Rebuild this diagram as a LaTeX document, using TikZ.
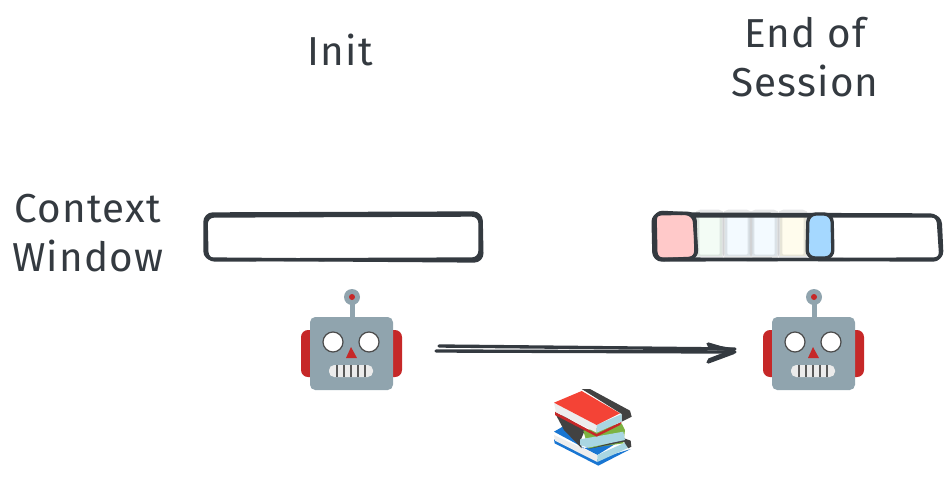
\documentclass[tikz,border=0pt]{standalone}
\usepackage{fontspec}
\newfontfamily\handfont[LetterSpace=3]{Fira Sans}
\definecolor{ink}{HTML}{343A40}
\definecolor{robotgray}{HTML}{90A4AE}
\definecolor{robotred}{HTML}{C62828}
\definecolor{cellred}{HTML}{FFC9C9}
\definecolor{cellblue}{HTML}{A5D8FF}
\definecolor{cellgreen}{HTML}{F3FCF5}
\definecolor{cellsky}{HTML}{F3FAFF}
\definecolor{cellyellow}{HTML}{FFFCED}
\definecolor{bookred}{HTML}{F44336}
\definecolor{bookblue}{HTML}{1976D2}
\definecolor{bookgreen}{HTML}{7CB342}
\definecolor{bookdark}{HTML}{424242}
\definecolor{bookpage}{HTML}{A9D6E2}
\tikzset{
    handtext/.style={text=ink,font=\handfont\fontsize{23}{28}\selectfont,align=center,inner sep=0pt},
    sketch/.style={draw=ink,line width=1.9pt,rounded corners=4.5pt,line cap=round,line join=round},
    ghost/.style={draw=ink,draw opacity=0.12,line width=2.6pt,rounded corners=2pt},
    robotbox/.style={minimum width=58pt,minimum height=58pt,inner sep=0pt},
    robot/.pic={
        \fill[robotred,rounded corners=4pt] (-51,-23) rectangle (50,24);
        \fill[robotgray] (-2.5,-52) rectangle (2.5,-34);
        \fill[robotgray] (0,-56) circle (8);
        \fill[robotred] (0,-56) circle (3);
        \fill[robotgray,rounded corners=3pt] (-42,-36) rectangle (41,37);
        \foreach \ex in {-19,17} {
            \fill[white,draw=black!70,line width=0.7pt] (\ex,-11) circle (10);
        }
        \fill[robotred] (-1,-6) -- (-6,5) -- (5,5) -- cycle;
        \fill[white!92!black,rounded corners=3pt] (-23,12) rectangle (21,24);
        \foreach \tx in {-15,-8,-1,6,13} {
            \draw[black!65,line width=0.7pt] (\tx,12) -- (\tx,24);
        }
    }
}
\begin{document}
\begin{tikzpicture}[x=0.02cm,y=-0.02cm,>=stealth]
    \useasboundingbox (0,0) rectangle (951,485);

    \node[handtext] (inittitle) at (340,50) {Init};
    \node[handtext] (endtitle) at (805,57) {End of\\Session};
    \node[handtext] (windowlabel) at (88,233) {Context\\Window};

    \draw[sketch] (205,214) -- (481,213) -- (482,261) -- (205,259) -- cycle;
    \draw[sketch] (206,216) -- (480,215) -- (480,259) -- (207,260) -- cycle;

    \fill[cellgreen] (697,216) rectangle (722,256);
    \fill[cellsky] (725,216) rectangle (750,256);
    \fill[cellsky] (752,216) rectangle (777,256);
    \fill[cellyellow] (780,216) rectangle (806,256);
    \foreach \gx/\gy in {697/722,725/750,752/777,780/806} {
        \draw[ghost] (\gx,212) rectangle (\gy,257);
    }
    \draw[sketch] (655,214) -- (938,215) -- (941,260) -- (655,259) -- cycle;
    \draw[sketch] (654,216) -- (940,216) -- (942,259) -- (654,260) -- cycle;
    \draw[sketch,fill=cellred] (653,214) -- (695,213) -- (696,259) -- (654,259) -- cycle;
    \draw[sketch] (655,212) -- (694,214) -- (697,258) -- (656,260) -- cycle;
    \draw[sketch,fill=cellblue] (808,214) -- (832,214) -- (833,258) -- (807,258) -- cycle;

    \node[robotbox] (initrobot) at (352,353) {};
    \node[robotbox] (endrobot) at (814,353) {};
    \pic at (initrobot.center) {robot};
    \pic at (endrobot.center) {robot};

    \coordinate (arrowstarta) at (439,346);
    \coordinate (arrowstartb) at (436,351);
    \coordinate (arrowtip) at (735,352);
    \coordinate (headtop) at (708,344);
    \coordinate (headbottom) at (708,362);
    \draw[sketch] (arrowstarta) -- (735,349);
    \draw[sketch] (arrowstartb) -- (arrowtip);
    \draw[sketch,rounded corners=1pt] (headtop) -- (arrowtip) -- (headbottom);
    \draw[sketch,rounded corners=1pt] (709,346) -- (735,350) -- (709,360);

    \begin{scope}[shift={(540,380)},x=0.00667cm,y=-0.00667cm]
        \fill[bookblue] (42,155) -- (68,140) -- (130,205) -- (245,180) -- (172,225) -- cycle;
        \fill[bookblue] (42,178) -- (44,190) -- (175,257) -- (272,207) -- (172,238) -- cycle;
        \fill[white!93!black] (42,165) -- (172,225) -- (172,246) -- (45,182) -- cycle;
        \fill[bookpage] (172,225) -- (250,190) -- (266,185) -- (266,203) -- (172,246) -- cycle;
        \fill[bookdark] (245,172) -- (272,182) -- (274,200) -- (265,205) -- (255,190) -- cycle;
        \fill[bookdark] (48,105) -- (70,105) -- (135,150) -- (122,180) -- (125,205) -- (72,150) -- cycle;
        \fill[bookgreen] (130,152) -- (245,130) -- (255,150) -- (250,190) -- (145,205) -- cycle;
        \fill[bookdark] (250,178) -- (262,183) -- (145,207) -- cycle;
        \fill[bookpage] (120,178) -- (250,155) -- (255,180) -- (145,203) -- (120,195) -- cycle;
        \fill[robotred] (45,95) -- (170,162) -- (245,125) -- (240,135) -- (170,170) -- (45,105) -- cycle;
        \fill[bookdark] (125,27) -- (150,27) -- (270,92) -- (275,110) -- (245,125) -- (245,102) -- cycle;
        \fill[white!93!black] (42,68) -- (170,135) -- (170,158) -- (48,97) -- cycle;
        \fill[bookpage] (170,135) -- (245,102) -- (245,125) -- (170,158) -- cycle;
        \fill[bookred] (42,68) -- (125,33) -- (240,100) -- (170,135) -- cycle;
    \end{scope}
\end{tikzpicture}
\end{document}
